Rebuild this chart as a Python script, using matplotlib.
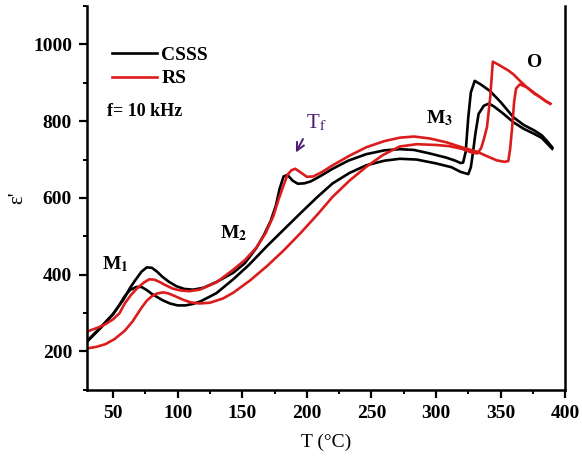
import matplotlib
matplotlib.use("Agg")
from matplotlib import pyplot as plt
from matplotlib.ticker import MultipleLocator

plt.rcParams["mathtext.fontset"] = "stix"

# CSSS, curve with the T_f step and the M3 jump near 320 C
csss_a_T = [30, 40, 50, 58, 63, 67, 72, 76, 80, 84, 88, 93, 99, 105, 112, 120, 130, 143,
            152, 161, 167, 172, 176, 179, 182, 185, 189, 193, 198, 203, 210, 220, 232, 246,
            260, 272, 283, 295, 308, 315, 319, 321, 323, 325, 327, 330, 335, 342, 350, 360,
            368, 376, 382, 386, 390]
csss_a_eps = [228, 262, 298, 335, 365, 385, 408, 419, 418, 408, 395, 382, 370, 363, 361, 366, 381, 405,
              430, 470, 505, 540, 580, 625, 656, 660, 645, 637, 638, 643, 656, 676, 697, 714,
              724, 727, 725, 716, 705, 697, 691, 692, 720, 810, 875, 905, 895, 878, 850, 810,
              790, 776, 763, 748, 732]

# CSSS, smooth curve
csss_b_T = [30, 40, 50, 55, 59, 63, 68, 72, 76, 80, 84, 88, 94, 100, 106, 112, 118, 130,
            143, 155, 169, 182, 195, 208, 220, 233, 246, 260, 272, 285, 300, 312, 319, 325,
            327, 328.5, 330.5, 333, 337, 341, 345, 352, 360, 368, 376, 382, 386, 390]
csss_b_eps = [226, 260, 297, 322, 344, 360, 368, 368, 360, 350, 342, 334, 325, 320, 320, 324, 331, 352,
              388, 425, 474, 517, 560, 602, 638, 665, 685, 697, 702, 700, 690, 680, 668, 662,
              680, 715, 767, 819, 840, 846, 838, 820, 797, 780, 767, 756, 742, 728]

# RS, curve with the T_f step
rs_a_T = [30, 38, 44, 50, 55, 59, 64, 69, 74, 78, 82, 86, 91, 96, 102, 109, 117, 130,
          143, 152, 161, 168, 174, 178, 182, 185, 188, 191, 195, 200, 205, 212, 220, 233,
          246, 260, 272, 283, 295, 308, 320, 332, 340, 347, 353, 356, 357.5, 359, 360.5, 362,
          365, 370.5, 376, 381, 385, 388.5]
rs_a_eps = [252, 262, 271, 284, 300, 325, 348, 366, 380, 388, 387, 381, 372, 364, 359, 357, 361, 380,
            413, 438, 471, 508, 552, 595, 633, 660, 672, 676, 667, 655, 656, 668, 685, 710,
            732, 748, 757, 760, 755, 745, 732, 720, 708, 698, 694, 696, 730, 785, 850, 885,
            896, 888, 874, 862, 852, 845]

# RS, smooth curve
rs_b_T = [30, 37, 44, 51, 59, 65, 72, 76, 80, 84, 89, 93, 98, 104, 110, 117, 125, 135,
          143, 156, 169, 182, 195, 208, 220, 233, 246, 259, 272, 285, 300, 310, 320, 328,
          332, 335, 337, 339.5, 342, 344, 348, 352, 356, 360, 365, 370.5, 376, 381, 385, 388.5]
rs_b_eps = [208, 212, 219, 232, 254, 278, 314, 332, 344, 351, 354, 351, 344, 335, 328, 325, 327, 338,
            353, 385, 422, 463, 508, 556, 603, 645, 681, 712, 734, 740, 738, 735, 728, 718,
            716, 730, 752, 785, 862, 955, 948, 940, 932, 922, 905, 888, 872, 862, 852, 846]

black = "#000000"
red = "#dc1c1c"
serif = "Liberation Serif"

fig = plt.figure(figsize=(5.82, 4.63), dpi=100)
ax = fig.add_axes([0.150, 0.158, 0.821, 0.829])

ax.plot(csss_a_T, csss_a_eps, color=black, lw=1.9, label="CSSS")
ax.plot(csss_b_T, csss_b_eps, color=black, lw=1.9)
ax.plot(rs_a_T, rs_a_eps, color=red, lw=1.9, label="RS")
ax.plot(rs_b_T, rs_b_eps, color=red, lw=1.9)

ax.set_xlim(30, 400)
ax.set_ylim(100, 1100)
ax.xaxis.set_major_locator(MultipleLocator(50))
ax.xaxis.set_minor_locator(MultipleLocator(25))
ax.yaxis.set_major_locator(MultipleLocator(200))
ax.yaxis.set_minor_locator(MultipleLocator(100))
ax.tick_params(which="major", direction="out", length=6, width=1.6, pad=5)
ax.tick_params(which="minor", direction="out", length=3, width=1.4)
ax.tick_params(top=False, right=False, which="both")
for lab in ax.get_xticklabels() + ax.get_yticklabels():
    lab.set_fontfamily(serif)
    lab.set_fontweight("bold")
    lab.set_fontsize(14)

ax.spines["top"].set_visible(False)
for s in ["left", "bottom", "right"]:
    ax.spines[s].set_linewidth(1.8)

ax.set_xlabel("T (°C)", fontfamily=serif, fontsize=14, labelpad=8)
ax.set_ylabel("ε'", fontfamily=serif, fontsize=15)
ax.yaxis.set_label_coords(-0.125, 0.5)

ax.legend(loc="upper left", bbox_to_anchor=(0.035, 0.915), frameon=False, handlelength=2.3,
          handletextpad=0.25, labelspacing=0.3, borderaxespad=0,
          prop={"family": serif, "weight": "bold", "size": 14})
ax.text(45, 826, "f= 10 kHz", fontfamily=serif, fontweight="bold", fontsize=13, va="center")

ax.text(52, 427, r"M$_\mathbf{1}$", fontfamily=serif, fontweight="bold", fontsize=14, ha="center", va="center")
ax.text(143, 508, r"M$_\mathbf{2}$", fontfamily=serif, fontweight="bold", fontsize=14, ha="center", va="center")
ax.text(303, 808, r"M$_\mathbf{3}$", fontfamily=serif, fontweight="bold", fontsize=14, ha="center", va="center")
ax.text(376, 952, "O", fontfamily=serif, fontweight="bold", fontsize=14, ha="center", va="center")

purple = "#4e1a73"
ax.annotate("", xy=(190.5, 712), xytext=(198, 760),
            arrowprops=dict(arrowstyle="->", color=purple, lw=1.4, mutation_scale=14))
ax.text(207, 795, r"T$_\mathrm{f}$", fontfamily=serif, fontsize=15, color=purple, ha="center", va="center")

fig.savefig("out.png", dpi=100)
